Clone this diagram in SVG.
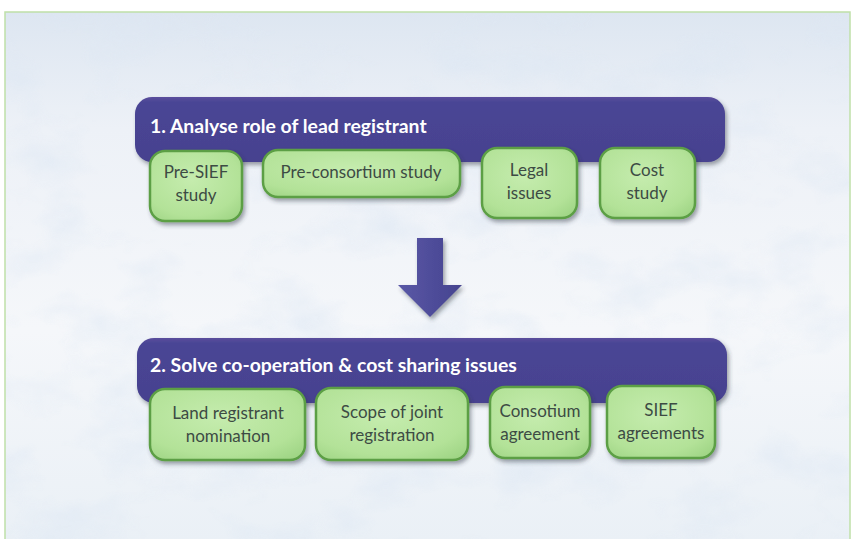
<svg xmlns="http://www.w3.org/2000/svg" width="854" height="539" viewBox="0 0 854 539">
  <defs>
    <style>
      .bar { fill: url(#barFill); filter: url(#shadow); }
      .bar-title { font-family: Lato, "Liberation Sans", sans-serif; font-weight: 700; font-size: 19.4px; fill: #ffffff; }
      .box { fill: url(#boxFill); stroke: #5c9f45; stroke-width: 2.5; filter: url(#shadow); }
      .label { font-family: Lato, "Liberation Sans", sans-serif; font-size: 17px; fill: #3d4b44; text-anchor: middle; }
      .flow { fill: url(#arrowFill); filter: url(#shadow); }
    </style>
    <linearGradient id="bgFill" x1="0" y1="0" x2="0" y2="1">
      <stop offset="0" stop-color="#dde6f1"/>
      <stop offset="0.22" stop-color="#edf1f7"/>
      <stop offset="0.6" stop-color="#f5f7fa"/>
      <stop offset="1" stop-color="#eaf0f6"/>
    </linearGradient>
    <linearGradient id="barFill" x1="0" y1="0" x2="0" y2="1">
      <stop offset="0" stop-color="#5b4f9d"/>
      <stop offset="0.08" stop-color="#4a4595"/>
      <stop offset="1" stop-color="#46428f"/>
    </linearGradient>
    <radialGradient id="boxFill" cx="0.45" cy="0.4" r="0.75">
      <stop offset="0" stop-color="#c5ecae"/>
      <stop offset="0.7" stop-color="#b3e298"/>
      <stop offset="1" stop-color="#9ed484"/>
    </radialGradient>
    <linearGradient id="arrowFill" x1="0" y1="0" x2="1" y2="0">
      <stop offset="0" stop-color="#5a58a6"/>
      <stop offset="1" stop-color="#45438f"/>
    </linearGradient>
    <filter id="shadow" x="-10%" y="-10%" width="125%" height="135%">
      <feDropShadow dx="2" dy="3" stdDeviation="2.2" flood-color="#2a3040" flood-opacity="0.45"/>
    </filter>
    <filter id="clouds" x="0" y="0" width="100%" height="100%">
      <feTurbulence type="fractalNoise" baseFrequency="0.012 0.02" numOctaves="4" seed="7"/>
      <feColorMatrix type="matrix" values="0 0 0 0 0.72  0 0 0 0 0.80  0 0 0 0 0.90  0 0 0 1.6 -0.75"/>
    </filter>
  </defs>

  <!-- page background and frame -->
  <rect x="0" y="0" width="854" height="539" fill="#ffffff"/>
  <rect x="5" y="12" width="845" height="530" fill="url(#bgFill)" stroke="#bfe0a8" stroke-width="1.5"/>
  <rect x="6" y="13" width="843" height="526" filter="url(#clouds)" opacity="0.8"/>

  <!-- step connector -->
  <g id="connectors">
    <polygon class="flow" points="417,238 443,238 443,285 462,285 430,317 398,285 417,285"/>
  </g>

  <!-- step 1 -->
  <g id="step1">
    <rect class="bar" x="135" y="97" width="590" height="65" rx="17"/>
    <text class="bar-title" x="150" y="133">1. Analyse role of lead registrant</text>
  </g>
  <g id="pre-sief-study">
    <rect class="box" x="150" y="151" width="92" height="70" rx="15"/>
    <text class="label" x="196" y="178">Pre-SIEF</text>
    <text class="label" x="196" y="201">study</text>
  </g>
  <g id="pre-consortium-study">
    <rect class="box" x="263" y="150" width="197" height="47" rx="15"/>
    <text class="label" x="361" y="178">Pre-consortium study</text>
  </g>
  <g id="legal-issues">
    <rect class="box" x="482" y="148" width="95" height="70" rx="15"/>
    <text class="label" x="529" y="176">Legal</text>
    <text class="label" x="529" y="199">issues</text>
  </g>
  <g id="cost-study">
    <rect class="box" x="600" y="148" width="95" height="70" rx="15"/>
    <text class="label" x="647" y="176">Cost</text>
    <text class="label" x="647" y="199">study</text>
  </g>

  <!-- step 2 -->
  <g id="step2">
    <rect class="bar" x="137" y="338" width="590" height="65" rx="17"/>
    <text class="bar-title" x="150" y="372">2. Solve co-operation &amp; cost sharing issues</text>
  </g>
  <g id="lead-registrant-nomination">
    <rect class="box" x="150" y="389" width="155" height="71" rx="15"/>
    <text class="label" x="228" y="419">Land registrant</text>
    <text class="label" x="228" y="442">nomination</text>
  </g>
  <g id="scope-of-joint-registration">
    <rect class="box" x="316" y="388" width="152" height="72" rx="15"/>
    <text class="label" x="392" y="418">Scope of joint</text>
    <text class="label" x="392" y="441">registration</text>
  </g>
  <g id="consortium-agreement">
    <rect class="box" x="490" y="387" width="100" height="71" rx="15"/>
    <text class="label" x="540" y="417">Consotium</text>
    <text class="label" x="540" y="440">agreement</text>
  </g>
  <g id="sief-agreements">
    <rect class="box" x="607" y="386" width="108" height="72" rx="15"/>
    <text class="label" x="661" y="416">SIEF</text>
    <text class="label" x="661" y="439">agreements</text>
  </g>
</svg>
